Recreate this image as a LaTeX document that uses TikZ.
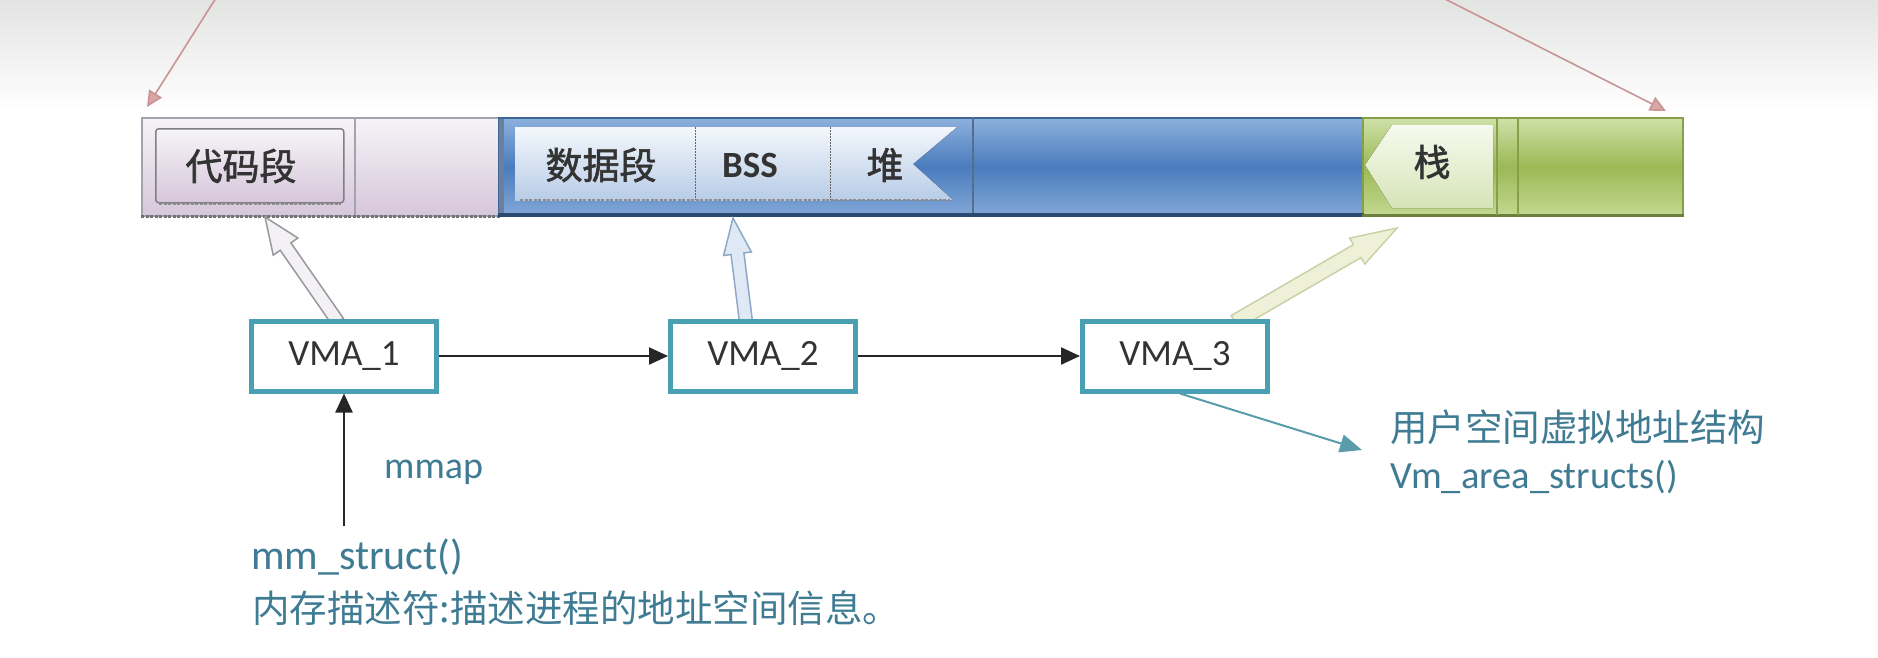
\documentclass[tikz,border=0pt]{standalone}
\usepackage{fontspec}
\setmainfont{Carlito}
\newfontfamily\cjk{Noto Sans CJK SC}
\newfontfamily\cjkm{Noto Sans CJK SC}[FakeBold=1.6]
\usetikzlibrary{calc,arrows.meta}

\definecolor{vmaborder}{HTML}{4AA0B3}
\definecolor{lbl}{HTML}{3F7C94}
\definecolor{pinkarr}{HTML}{C99494}
\definecolor{pinkfill}{HTML}{D8A6A6}
\definecolor{barlabel}{HTML}{333333}
\definecolor{lavtop}{HTML}{F6F4F8}
\definecolor{lavbot}{HTML}{D6C6DA}
\definecolor{lavline}{HTML}{A4A2AE}
\definecolor{bluetop}{HTML}{8DB1DD}
\definecolor{bluemid}{HTML}{4A7CBD}
\definecolor{bluebot}{HTML}{82A8D8}
\definecolor{blueline}{HTML}{3F6797}
\definecolor{bluedark}{HTML}{2A4A72}
\definecolor{ibtop}{HTML}{F3F7FC}
\definecolor{ibbot}{HTML}{B8CCE6}
\definecolor{grtop}{HTML}{D0E1AA}
\definecolor{grmid}{HTML}{9BB955}
\definecolor{grbot}{HTML}{C4D891}
\definecolor{grline}{HTML}{86A04A}
\definecolor{sttop}{HTML}{F7FAEF}
\definecolor{stbot}{HTML}{D6E4B6}
\definecolor{tealarr}{HTML}{5A9CAC}

\newcommand\hollowarrow[6]{%
  \coordinate (hb) at ($(#2)!#5!(#1)$);
  \draw[#6] ($(#1)!#3!90:(#2)$) -- ($(hb)!#3!90:(#2)$) -- ($(hb)!#4!90:(#2)$)
    -- (#2) -- ($(hb)!#4!-90:(#2)$) -- ($(hb)!#3!-90:(#2)$)
    -- ($(#1)!#3!-90:(#2)$) -- cycle;
}

\tikzset{
  seg/.style={inner sep=0pt, anchor=north west, line width=1.5pt},
  inbox/.style={inner sep=0pt, anchor=north west},
  barlbl/.style={inner sep=0pt, text=barlabel, font=\fontsize{37}{44}\selectfont},
  vma/.style={draw=vmaborder, line width=5pt, fill=white, minimum width=185pt,
    minimum height=70pt, inner sep=0pt, text=barlabel, font=\fontsize{37}{44}\selectfont},
  blackarr/.style={draw=black!85, line width=2.2pt, -{Triangle[length=19pt,width=17pt]}},
  pinkline/.style={draw=pinkarr, line width=1.6pt, -{Triangle[length=16pt,width=15pt,fill=pinkfill]}},
  tealline/.style={draw=tealarr, line width=2pt, -{Triangle[length=22pt,width=18pt]}},
  lbltext/.style={inner sep=0pt, anchor=west, text=lbl},
}

\begin{document}
\begin{tikzpicture}[x=1pt,y=-1pt]
\useasboundingbox (0,0) rectangle (1878,657);
% background
\fill[white] (0,0) rectangle (1878,657);
\fill[top color={rgb,255:red,226;green,228;blue,226}, bottom color=white] (0,0) rectangle (1878,112);

% ---- memory bar ----
\node[seg, draw=lavline, top color=lavtop, bottom color=lavbot,
  minimum width=357pt, minimum height=98pt] (lav) at (141,117) {};
\node[seg, draw=blueline, top color=bluetop, bottom color=bluebot, middle color=bluemid,
  minimum width=864pt, minimum height=98pt] (blue) at (498,117) {};
\node[seg, draw=grline, top color=grtop, bottom color=grbot, middle color=grmid,
  minimum width=320pt, minimum height=98pt] (green) at (1362,117) {};

% bottom edges
\draw[black!55, line width=2.5pt, dash pattern=on 3pt off 1.5pt] (lav.south west) -- (lav.south east);
\draw[bluedark, line width=4pt] ($(blue.south west)+(0,-2)$) -- ($(blue.south east)+(0,-2)$);
\draw[grline!80!black, line width=2.5pt] ($(green.south west)+(0,-1)$) -- ($(green.south east)+(0,-1)$);
\draw[bluedark!70, line width=5pt] ($(blue.north west)+(3,2)$) -- ($(blue.south west)+(3,-4)$);

% code segment
\node[inbox, draw=black!50, line width=1.5pt, rounded corners=3pt, top color=lavtop, bottom color=lavbot,
  minimum width=188pt, minimum height=74pt] (code) at (155,128) {};
\draw[black!45, line width=2pt, dash pattern=on 3pt off 1.5pt] ($(code.south west)+(4,0)$) -- ($(code.south east)+(-4,0)$);
\draw[lavline, line width=1.5pt] (355,117) -- (355,215);
\node[barlbl] (codet) at (241,166) {\cjkm 代码段};

% data / bss / heap
\node[inbox, top color=ibtop, bottom color=ibbot, minimum width=180pt, minimum height=73pt] (data) at (515,127) {};
\node[inbox, top color=ibtop, bottom color=ibbot, minimum width=135pt, minimum height=73pt] (bss) at (695,127) {};
\coordinate (heapnw) at (830,127);
\fill[top color=ibtop, bottom color=ibbot] (heapnw) -- (957,127) -- (913,164) -- (953,200) -- (830,200) -- cycle;
\draw[black!45, line width=2pt, dash pattern=on 3pt off 1.5pt] (520,200) -- (950,200);
\draw[black!60, line width=1.5pt, dash pattern=on 2pt off 1pt] (data.north east) -- (data.south east);
\draw[black!60, line width=1.5pt, dash pattern=on 2pt off 1pt] (bss.north east) -- (bss.south east);
\draw[bluedark!80, line width=1.5pt] (973,117) -- (973,213);
\node[barlbl] (datat) at (601,165) {\cjkm 数据段};
\node[barlbl, font=\fontsize{37}{44}\selectfont\bfseries] (bsst) at (750,165) {BSS};
\node[barlbl] (heapt) at (885,165) {\cjkm 堆};

% stack
\coordinate (stackw) at (1365,165);
\fill[top color=sttop, bottom color=stbot] (stackw) -- (1392,125) -- (1493,125) -- (1493,208) -- (1392,208) -- cycle;
\draw[grline, line width=1.5pt] (1497,117) -- (1497,215);
\draw[grline, line width=1.5pt] (1518,117) -- (1518,215);
\node[barlbl] (stackt) at (1432,162) {\cjkm 栈};

% top pink arrows
\coordinate (pa1) at (216,-2);
\coordinate (pa1t) at (147,107);
\coordinate (pa2) at (1443,-2);
\coordinate (pa2t) at (1666,111);
\draw[pinkline] (pa1) -- (pa1t);
\draw[pinkline] (pa2) -- (pa2t);

% hollow arrows to the bar
\coordinate (h1s) at (338,322);
\coordinate (h1t) at (265,217);
\coordinate (h2s) at (746,322);
\coordinate (h2t) at (733,218);
\coordinate (h3s) at (1235,322);
\coordinate (h3t) at (1397,228);
\hollowarrow{h1s}{h1t}{6.5pt}{15pt}{36pt}{draw=black!40, fill={rgb,255:red,243;green,241;blue,246}, line width=1.5pt}
\hollowarrow{h2s}{h2t}{6.5pt}{14pt}{36pt}{draw={rgb,255:red,143;green,168;blue,198}, fill={rgb,255:red,223;green,233;blue,245}, line width=1.5pt}
\hollowarrow{h3s}{h3t}{7.5pt}{15pt}{46pt}{draw={rgb,255:red,201;green,210;blue,166}, fill={rgb,255:red,238;green,241;blue,216}, line width=1.5pt}

% VMA nodes
\node[vma] (vma1) at (344,356) {VMA\_1};
\node[vma] (vma2) at (763,356) {VMA\_2};
\node[vma] (vma3) at (1175,356) {VMA\_3};
\draw[blackarr] (vma1) -- (vma2);
\draw[blackarr] (vma2) -- (vma3);

% mm_struct
\coordinate (mmfrom) at (344,526);
\draw[blackarr] (mmfrom) -- (vma1.south);
\node[lbltext, font=\fontsize{38}{44}\selectfont] (mmap) at (384,472) {mmap};
\node[lbltext, font=\fontsize{42}{48}\selectfont] (mmstruct) at (251,557) {mm\_struct()};
\node[lbltext, font=\fontsize{37.5}{44}\selectfont\cjk] (mmdesc) at (252,608) {内存描述符:描述进程的地址空间信息。};

% vm_area_structs
\coordinate (vmto) at (1362,450);
\draw[tealline] ($(vma3.south)+(5,0)$) -- (vmto);
\node[lbltext, font=\fontsize{37.5}{44}\selectfont\cjk] (uvs) at (1390,427) {用户空间虚拟地址结构};
\node[lbltext, font=\fontsize{38.5}{44}\selectfont] (vmas) at (1390,477) {Vm\_area\_structs()};
\end{tikzpicture}
\end{document}
